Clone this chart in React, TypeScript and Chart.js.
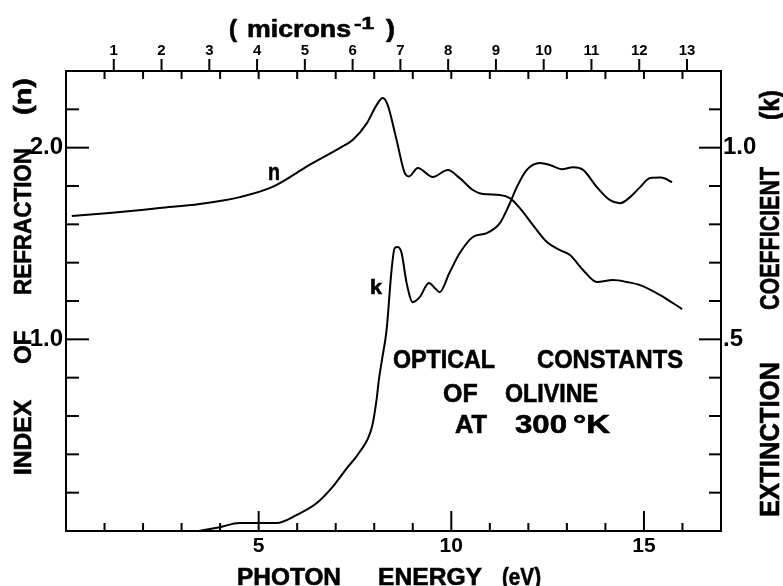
import { useEffect, useRef } from 'react';
import { Chart, registerables } from 'chart.js';

Chart.register(...registerables);

// ---- data ----
const EV_PER_INV_MICRON = 1.2398;
const X_MAX_EV = 17;

const nEnergy = [0.15, 1.13, 2.43, 3.47, 4.51, 5.36, 6.32, 7.1, 7.44, 7.81, 8.06, 8.22, 8.35, 8.58, 8.79, 8.9, 9.13, 9.52, 9.91, 10.22, 10.56, 10.82, 11.26, 11.52, 11.78, 12.12, 12.48, 12.82, 13.08, 13.42, 13.78, 14.2, 14.56, 14.9, 15.42, 15.99];
const nValues = [1.643, 1.659, 1.685, 1.706, 1.742, 1.795, 1.91, 1.998, 2.04, 2.128, 2.222, 2.259, 2.222, 2.04, 1.868, 1.85, 1.894, 1.847, 1.883, 1.841, 1.779, 1.758, 1.753, 1.737, 1.685, 1.596, 1.508, 1.466, 1.44, 1.362, 1.299, 1.309, 1.299, 1.283, 1.231, 1.158];

const kEnergy = [3.44, 3.99, 4.5, 5.03, 5.47, 5.99, 6.51, 6.92, 7.29, 7.62, 7.94, 8.06, 8.12, 8.2, 8.32, 8.45, 8.53, 8.61, 8.71, 8.84, 9.0, 9.18, 9.42, 9.57, 9.7, 9.95, 10.22, 10.56, 10.92, 11.26, 11.52, 11.7, 11.96, 12.3, 12.56, 12.87, 13.16, 13.42, 13.78, 14.12, 14.38, 14.64, 14.9, 15.16, 15.45, 15.73];
const kValues = [0.0, 0.01, 0.021, 0.021, 0.021, 0.042, 0.073, 0.115, 0.164, 0.206, 0.271, 0.342, 0.394, 0.446, 0.524, 0.681, 0.738, 0.741, 0.725, 0.647, 0.597, 0.61, 0.647, 0.634, 0.623, 0.673, 0.725, 0.767, 0.777, 0.803, 0.855, 0.897, 0.942, 0.96, 0.955, 0.944, 0.949, 0.942, 0.897, 0.863, 0.855, 0.871, 0.897, 0.921, 0.922, 0.91];

const bottomLabels = [5, 10, 15];
const topLabels = [1, 2, 3, 4, 5, 6, 7, 8, 9, 10, 11, 12, 13];
const leftLabels = [1.0, 2.0];
const rightLabels = [0.5, 1.0];

const FONT = '"Liberation Sans", Arial, sans-serif';

const near = (a: number, b: number) => Math.abs(a - b) < 1e-6;

function paint(ctx: CanvasRenderingContext2D, text: string) {
  ctx.textAlign = 'left';
  ctx.textBaseline = 'alphabetic';
  ctx.fillText(text, 0, 0);
  ctx.lineWidth = 0.6;
  ctx.strokeText(text, 0, 0);
}

function fitH(ctx: CanvasRenderingContext2D, text: string, x0: number, x1: number | null, baseline: number, size: number) {
  ctx.font = `bold ${size}px ${FONT}`;
  const w = ctx.measureText(text).width;
  ctx.save();
  ctx.translate(x0, baseline);
  if (x1 !== null) ctx.scale((x1 - x0) / w, 1);
  paint(ctx, text);
  ctx.restore();
}

function fitV(ctx: CanvasRenderingContext2D, text: string, yBottom: number, yTop: number | null, baselineX: number, size: number) {
  ctx.font = `bold ${size}px ${FONT}`;
  const w = ctx.measureText(text).width;
  ctx.save();
  ctx.translate(baselineX, yBottom);
  ctx.rotate(-Math.PI / 2);
  if (yTop !== null) ctx.scale((yBottom - yTop) / w, 1);
  paint(ctx, text);
  ctx.restore();
}

const decorPlugin = {
  id: 'decor',
  afterDraw(chart: any) {
    const ctx: CanvasRenderingContext2D = chart.ctx;
    const { left, right, top, bottom } = chart.chartArea;
    const xs = chart.scales.x;
    const xt = chart.scales.xTop;
    const ys = chart.scales.y;
    const yk = chart.scales.yk;
    ctx.save();
    ctx.strokeStyle = '#000';
    ctx.fillStyle = '#000';
    const line = (a: number, b: number, c: number, d: number) => {
      ctx.lineWidth = 2;
      ctx.beginPath();
      ctx.moveTo(a, b);
      ctx.lineTo(c, d);
      ctx.stroke();
    };
    // eV ticks bottom (inward) and top frame (inward)
    xs.ticks.forEach((t: any) => {
      const v = t.value;
      if (!Number.isInteger(v) || v <= 0 || v >= X_MAX_EV) return;
      const px = xs.getPixelForValue(v);
      const major = bottomLabels.includes(v);
      line(px, bottom, px, bottom - (major ? 20 : 8));
      line(px, top, px, top + 8);
    });
    // micron^-1 ticks (outward, above frame)
    xt.ticks.forEach((t: any) => {
      const v = t.value;
      if (!topLabels.includes(v)) return;
      const px = xt.getPixelForValue(v);
      line(px, top, px, top - 12);
    });
    // left n ticks
    ys.ticks.forEach((t: any) => {
      const v = t.value;
      if (v <= 1e-6 || v >= 2.4 - 1e-6) return;
      const py = ys.getPixelForValue(v);
      const major = leftLabels.some((l) => near(l, v));
      line(left, py, left + (major ? 23 : 13), py);
    });
    // right k ticks
    yk.ticks.forEach((t: any) => {
      const v = t.value;
      if (v <= 1e-6 || v >= 1.2 - 1e-6) return;
      const py = yk.getPixelForValue(v);
      const major = rightLabels.some((l) => near(l, v));
      line(right, py, right - (major ? 22 : 12), py);
    });

    // top title: ( microns^-1 )
    fitH(ctx, '(', 229, 237, 37, 23);
    fitH(ctx, 'microns', 247, 351, 37, 23);
    fitH(ctx, '-1', 354, 374, 29, 17);
    fitH(ctx, ')', 386, 395, 37, 23);

    // bottom title
    fitH(ctx, 'PHOTON', 237, 341, 584.5, 24);
    fitH(ctx, 'ENERGY', 378, 482, 584.5, 24);
    fitH(ctx, '(eV)', 502, 541, 584.5, 24);

    // left title
    fitV(ctx, 'INDEX', 475, 400, 31, 24);
    fitV(ctx, 'OF', 364, null, 31, 24);
    fitV(ctx, 'REFRACTION', 295, 148, 31, 24);
    fitV(ctx, '(n)', 115, 78, 31, 24);

    // right title
    fitV(ctx, 'EXTINCTION', 517, 362, 779, 27);
    fitV(ctx, 'COEFFICIENT', 310, 167, 779, 27);
    fitV(ctx, '(k)', 120, 90, 779, 27);

    // curve labels
    fitH(ctx, 'n', 268, 280, 180, 24);
    fitH(ctx, 'k', 370, 382, 294, 21);

    // annotation block
    fitH(ctx, 'OPTICAL', 393, 495, 368, 25);
    fitH(ctx, 'CONSTANTS', 537, 683, 368, 25);
    fitH(ctx, 'OF', 443, null, 402, 25);
    fitH(ctx, 'OLIVINE', 505, 598, 402, 25);
    fitH(ctx, 'AT', 455, 487, 433, 25);
    fitH(ctx, '300', 515, 567, 433, 25);
    fitH(ctx, '°K', 573, 610, 433, 25);
    ctx.restore();
  },
};

export default function App() {
  const ref = useRef<HTMLCanvasElement>(null);
  useEffect(() => {
    if (!ref.current) return;
    const border = { display: true, color: '#000', width: 2 };
    const noGrid = { display: false, drawTicks: false };
    const chart = new Chart(ref.current, {
      type: 'line',
      data: {
        datasets: [
          {
            label: 'n',
            data: nEnergy.map((e, i) => ({ x: e, y: nValues[i] })),
            xAxisID: 'x',
            yAxisID: 'y',
            borderColor: '#000',
            borderWidth: 2,
            pointRadius: 0,
            fill: false,
            cubicInterpolationMode: 'monotone',
          },
          {
            label: 'k',
            data: kEnergy.map((e, i) => ({ x: e, y: kValues[i] })),
            xAxisID: 'x',
            yAxisID: 'yk',
            borderColor: '#000',
            borderWidth: 2,
            pointRadius: 0,
            fill: false,
            cubicInterpolationMode: 'monotone',
          },
        ],
      },
      options: {
        animation: false,
        responsive: false,
        layout: { padding: 0 },
        plugins: { legend: { display: false }, tooltip: { enabled: false } },
        scales: {
          x: {
            type: 'linear',
            position: 'bottom',
            min: 0,
            max: X_MAX_EV,
            grid: noGrid,
            border,
            afterFit: (s: any) => { s.height = 55; },
            ticks: {
              stepSize: 1,
              autoSkip: false,
              maxRotation: 0,
              padding: 3,
              color: '#000',
              font: { family: FONT, size: 21, weight: 'bold' },
              callback: (v: any) => (bottomLabels.includes(Number(v)) ? String(v) : ''),
            },
          },
          xTop: {
            type: 'linear',
            position: 'top',
            min: 0,
            max: X_MAX_EV / EV_PER_INV_MICRON,
            grid: noGrid,
            border,
            afterFit: (s: any) => { s.height = 71; },
            ticks: {
              stepSize: 1,
              includeBounds: false,
              autoSkip: false,
              maxRotation: 0,
              padding: 11,
              color: '#000',
              font: { family: FONT, size: 15, weight: 'bold' },
              callback: (v: any) => (topLabels.includes(Number(v)) ? String(v) : ''),
            },
          },
          y: {
            type: 'linear',
            position: 'left',
            min: 0,
            max: 2.4,
            grid: noGrid,
            border,
            afterFit: (s: any) => { s.width = 66; },
            ticks: {
              stepSize: 0.2,
              autoSkip: false,
              padding: 3,
              color: '#000',
              font: { family: FONT, size: 24, weight: 'bold' },
              callback: (v: any) => {
                const l = leftLabels.find((x) => near(x, Number(v)));
                return l === undefined ? '' : l.toFixed(1);
              },
            },
          },
          yk: {
            type: 'linear',
            position: 'right',
            min: 0,
            max: 1.2,
            grid: noGrid,
            border,
            afterFit: (s: any) => { s.width = 62; },
            ticks: {
              stepSize: 0.1,
              autoSkip: false,
              padding: 2,
              color: '#000',
              font: { family: FONT, size: 24, weight: 'bold' },
              callback: (v: any) => {
                const l = rightLabels.find((x) => near(x, Number(v)));
                return l === undefined ? '' : l.toFixed(1).replace(/^0/, '');
              },
            },
          },
        },
      } as any,
      plugins: [decorPlugin],
    });
    return () => chart.destroy();
  }, []);

  return (
    <div style={{ position: 'absolute', left: 0, top: 0, width: 783, height: 586, background: '#fff' }}>
      <canvas ref={ref} width={783} height={586} style={{ display: 'block' }} />
    </div>
  );
}
